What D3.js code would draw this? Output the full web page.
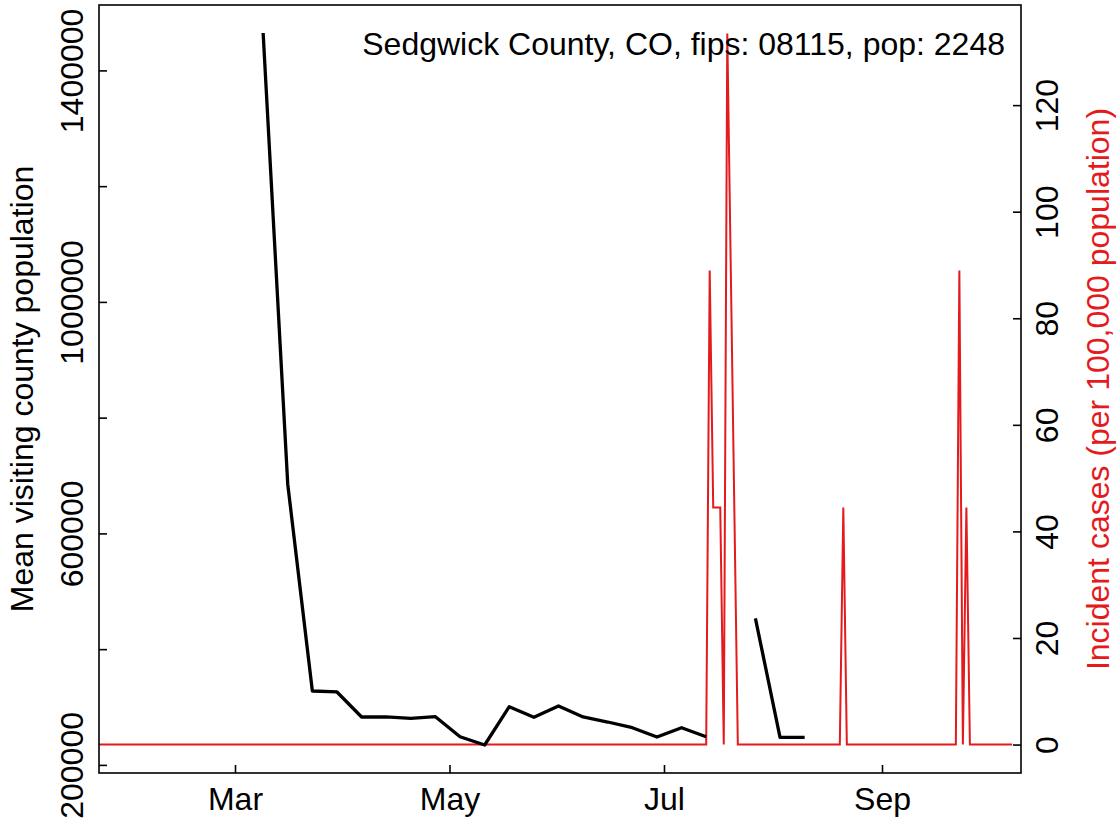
<!DOCTYPE html>
<html>
<head>
<meta charset="utf-8">
<script src="https://cdn.jsdelivr.net/npm/d3@7/dist/d3.min.js"></script>
<style>
  html, body { margin: 0; padding: 0; background: #ffffff; }
  svg { display: block; }
  text { font-family: "Liberation Sans", Arial, Helvetica, sans-serif; }
</style>
</head>
<body>
<svg id="chart" width="1119" height="822"></svg>
<script>
// ---------------- data ----------------
const titleText = "Sedgwick County, CO, fips: 08115, pop: 2248";
const leftAxisTitle = "Mean visiting county population";
const rightAxisTitle = "Incident cases (per 100,000 population)";

// weekly mean visiting population (black line); null = missing week
const visitDates = ["2020-03-09","2020-03-16","2020-03-23","2020-03-30","2020-04-06","2020-04-13",
  "2020-04-20","2020-04-27","2020-05-04","2020-05-11","2020-05-18","2020-05-25","2020-06-01",
  "2020-06-08","2020-06-15","2020-06-22","2020-06-29","2020-07-06","2020-07-13","2020-07-20",
  "2020-07-27","2020-08-03","2020-08-10"];
const visitValues = [1464600, 685000, 327700, 326000, 282800, 282800,
  280500, 283300, 248700, 234400, 300600, 282200, 301800,
  282800, 274100, 264300, 248200, 264300, 248700, null,
  453300, 247700, 247700];

// incident cases per 100k (red line), vertices of the series
const caseDates = ["2020-01-22","2020-07-13","2020-07-14","2020-07-15","2020-07-16","2020-07-17",
  "2020-07-18","2020-07-19","2020-07-22","2020-08-20","2020-08-21","2020-08-22","2020-09-22",
  "2020-09-23","2020-09-24","2020-09-25","2020-09-26","2020-10-08"];
const caseValues = [0, 0, 88.97, 44.48, 44.48, 44.48,
  0, 133.45, 0, 0, 44.48, 0, 0,
  88.97, 0, 44.48, 0, 0];

const leftTicks = [200000, 400000, 600000, 800000, 1000000, 1200000, 1400000];
const leftTickLabels = [200000, 600000, 1000000, 1400000];
const rightTicks = [0, 20, 40, 60, 80, 100, 120];
const monthTicks = ["2020-03-01","2020-05-01","2020-07-01","2020-09-01"];
const monthLabels = ["Mar","May","Jul","Sep"];

// ---------------- layout ----------------
const box = {left: 99, right: 1021, top: 5, bottom: 773};
const FS = 32;
const RED = "#e41a1c";
const FONT = "'Liberation Sans', Arial, sans-serif";

const svg = d3.select("#chart");
const parse = d3.utcParse("%Y-%m-%d");

const x = d3.scaleUtc()
  .domain([parse("2020-03-01"), parse("2020-09-01")])
  .range([235, 882]);
const yL = d3.scaleLinear().domain([186000, 1513000]).range([box.bottom, box.top]);
const yR = d3.scaleLinear().domain([-5.338, 138.79]).range([box.bottom, box.top]);

svg.append("defs").append("clipPath").attr("id", "clip")
  .append("rect")
  .attr("x", box.left).attr("y", box.top)
  .attr("width", box.right - box.left).attr("height", box.bottom - box.top);

const visits = visitDates.map((d, i) => ({date: parse(d), value: visitValues[i]}));
const cases = caseDates.map((d, i) => ({date: parse(d), value: caseValues[i]}));

const plot = svg.append("g").attr("clip-path", "url(#clip)");

// red cases line
plot.append("path")
  .datum(cases)
  .attr("fill", "none")
  .attr("stroke", RED)
  .attr("stroke-width", 2)
  .attr("stroke-linejoin", "miter")
  .attr("d", d3.line().x(d => x(d.date)).y(d => yR(d.value)));

// black visiting line
plot.append("path")
  .datum(visits)
  .attr("fill", "none")
  .attr("stroke", "#000")
  .attr("stroke-width", 3.3)
  .attr("stroke-linejoin", "round")
  .attr("stroke-linecap", "butt")
  .attr("d", d3.line().defined(d => d.value !== null).x(d => x(d.date)).y(d => yL(d.value)));

// box
svg.append("rect")
  .attr("x", box.left).attr("y", box.top)
  .attr("width", box.right - box.left).attr("height", box.bottom - box.top)
  .attr("fill", "none").attr("stroke", "#000").attr("stroke-width", 1.6);

// left axis
svg.append("g")
  .attr("transform", `translate(${box.left},0)`)
  .call(d3.axisLeft(yL).tickValues(leftTicks).tickSizeInner(-8).tickSizeOuter(0)
    .tickFormat(d => leftTickLabels.includes(d) ? d3.format("d")(d) : ""))
  .call(g => g.select(".domain").remove())
  .call(g => g.selectAll("line").attr("stroke", "#000").attr("stroke-width", 1.6))
  .call(g => g.selectAll("text")
    .attr("x", null).attr("dy", null).attr("y", null)
    .attr("transform", "translate(-16,0) rotate(-90)")
    .attr("text-anchor", "middle")
    .attr("fill", "#000")
    .style("font-size", FS + "px")
    .style("font-family", FONT));

// right axis
svg.append("g")
  .attr("transform", `translate(${box.right},0)`)
  .call(d3.axisRight(yR).tickValues(rightTicks).tickSizeInner(-8).tickSizeOuter(0)
    .tickFormat(d3.format("d")))
  .call(g => g.select(".domain").remove())
  .call(g => g.selectAll("line").attr("stroke", "#000").attr("stroke-width", 1.6))
  .call(g => g.selectAll("text")
    .attr("x", null).attr("dy", null).attr("y", null)
    .attr("transform", "translate(37,0) rotate(-90)")
    .attr("text-anchor", "middle")
    .attr("fill", "#000")
    .style("font-size", FS + "px")
    .style("font-family", FONT));

// bottom axis
svg.append("g")
  .attr("transform", `translate(0,${box.bottom})`)
  .call(d3.axisBottom(x).tickValues(monthTicks.map(parse)).tickSizeInner(-8).tickSizeOuter(0)
    .tickFormat((d, i) => monthLabels[i]))
  .call(g => g.select(".domain").remove())
  .call(g => g.selectAll("line").attr("stroke", "#000").attr("stroke-width", 1.6))
  .call(g => g.selectAll("text")
    .attr("y", 37).attr("dy", null)
    .attr("text-anchor", "middle")
    .attr("fill", "#000")
    .style("font-size", FS + "px")
    .style("font-family", FONT));

// axis titles
svg.append("text")
  .attr("transform", `translate(33,${(box.top + box.bottom) / 2}) rotate(-90)`)
  .attr("text-anchor", "middle")
  .style("font-size", FS + "px")
  .attr("fill", "#000")
  .text(leftAxisTitle);

svg.append("text")
  .attr("transform", `translate(1109,${(box.top + box.bottom) / 2}) rotate(-90)`)
  .attr("text-anchor", "middle")
  .style("font-size", FS + "px")
  .attr("fill", RED)
  .text(rightAxisTitle);

// title in plot
svg.append("text")
  .attr("x", 1005).attr("y", 55)
  .attr("text-anchor", "end")
  .style("font-size", FS + "px")
  .attr("fill", "#000")
  .text(titleText);
</script>
</body>
</html>
